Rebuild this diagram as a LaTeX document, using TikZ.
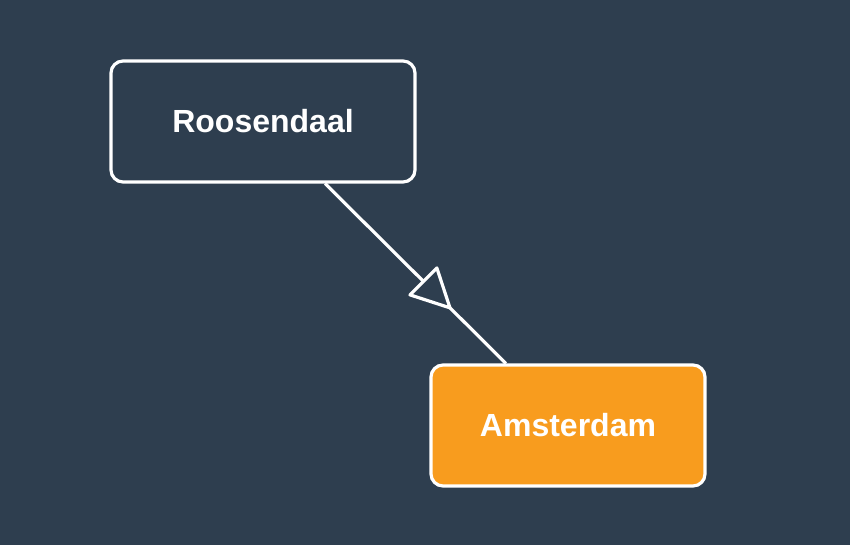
\documentclass[tikz,border=0pt]{standalone}
\usepackage{fontspec}
\setmainfont{Liberation Sans}
\usetikzlibrary{calc}
\definecolor{bg}{RGB}{46,62,79}
\definecolor{orng}{RGB}{248,156,30}
\tikzset{
  city/.style={draw=white, line width=3.2pt, rounded corners=12pt, minimum height=121pt,
    text=white, font=\fontsize{32}{36}\selectfont\bfseries, inner sep=0pt},
  conn/.style={draw=white, line width=3.2pt},
  headtri/.style={draw=white, fill=bg, line width=3.2pt, line join=round}
}
\begin{document}
\begin{tikzpicture}[x=1pt,y=-1pt]
\fill[bg] (0,0) rectangle (850,545);
\useasboundingbox (0,0) rectangle (850,545);
\node[city, fill=bg, minimum width=304pt] (r) at (263,121.5) {Roosendaal};
\node[city, fill=orng, minimum width=274pt] (a) at (568,425.5) {Amsterdam};
\draw[conn] (r) -- (a);
\coordinate (T) at ($(r.center)!0.613!(a.center)$);
\coordinate (B) at ($(r.center)!0.526!(a.center)$);
\draw[headtri] (T) -- ($(B)!19pt!90:(T)$) -- ($(B)!19pt!-90:(T)$) -- cycle;
\end{tikzpicture}
\end{document}
